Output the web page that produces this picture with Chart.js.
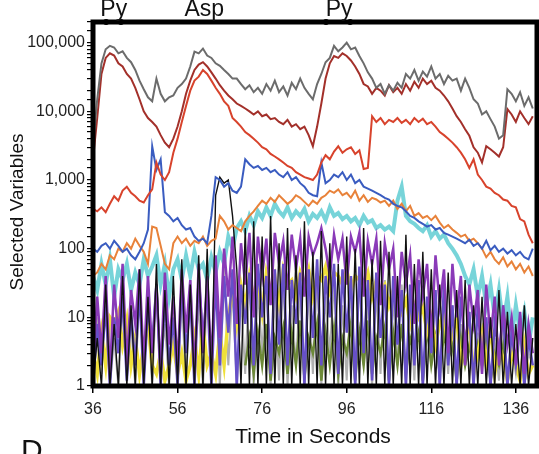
<!DOCTYPE html>
<html>
<head>
<meta charset="utf-8">
<script src="https://cdn.jsdelivr.net/npm/chart.js@4.4.1/dist/chart.umd.min.js"></script>
<style>
  body { margin: 0; background: #fff; }
  canvas { display: block; }
</style>
</head>
<body>
<canvas id="chart" width="539" height="454"></canvas>
<script>
const seconds = [
  36, 37, 38, 39, 40, 41, 42, 43, 44, 45,
  46, 47, 48, 49, 50, 51, 52, 53, 54, 55,
  56, 57, 58, 59, 60, 61, 62, 63, 64, 65,
  66, 67, 68, 69, 70, 71, 72, 73, 74, 75,
  76, 77, 78, 79, 80, 81, 82, 83, 84, 85,
  86, 87, 88, 89, 90, 91, 92, 93, 94, 95,
  96, 97, 98, 99, 100, 101, 102, 103, 104, 105,
  106, 107, 108, 109, 110, 111, 112, 113, 114, 115,
  116, 117, 118, 119, 120, 121, 122, 123, 124, 125,
  126, 127, 128, 129, 130, 131, 132, 133, 134, 135,
  136, 137, 138, 139, 140
];

const xTicks = [36, 56, 76, 96, 116, 136];
const markerTimes = [39.1, 42.6, 91.1, 96.8];
const markerLabels = [["Py", 40.9], ["Asp", 62.3], ["Py", 94.2]];

const grayVals = [
  3000, 15000, 50000, 80000, 90000, 85000, 70000, 75000, 60000, 52000,
  40000, 28000, 21000, 16000, 14000, 30000, 18000, 14000, 16000, 17000,
  22000, 25000, 30000, 45000, 74000, 70000, 82000, 65000, 60000, 50000,
  46000, 40000, 35000, 30000, 30000, 25000, 21000, 24000, 19000, 22000,
  18000, 25000, 20000, 28000, 19000, 23000, 17000, 26000, 21000, 30000,
  22000, 18000, 15000, 25000, 35000, 52000, 60000, 90000, 75000, 85000,
  100000, 80000, 85000, 64000, 50000, 37000, 30000, 22000, 25000, 18000,
  24000, 20000, 26000, 22000, 35000, 30000, 40000, 28000, 38000, 32000,
  45000, 30000, 35000, 25000, 33000, 28000, 30000, 20000, 30000, 22000,
  15000, 13000, 9000, 10000, 7700, 6000, 4000, 4500, 21000, 18000,
  14000, 19000, 12000, 16000, 11000
];

const darkRedVals = [
  2000, 8000, 35000, 60000, 70000, 65000, 50000, 45000, 35000, 30000,
  22000, 15000, 10000, 8000, 7000, 6000, 4500, 3500, 3000, 4000,
  6000, 10000, 18000, 28000, 40000, 48000, 52000, 45000, 37000, 30000,
  24000, 20000, 17000, 15000, 13000, 12000, 11000, 10000, 9000, 10000,
  8500, 9000, 7700, 8000, 7000, 6500, 7500, 6000, 6500, 5500,
  6000, 4500, 3100, 6000, 13000, 30000, 50000, 64000, 60000, 70000,
  64000, 55000, 45000, 35000, 25000, 23000, 18000, 22000, 20000, 17000,
  24000, 19000, 22000, 18000, 25000, 20000, 27000, 22000, 30000, 25000,
  28000, 22000, 20000, 17000, 14000, 11000, 8500, 7000, 5500, 4400,
  3000, 2500, 1800, 3100, 2800, 2500, 2200, 3000, 10800, 9000,
  7000, 10000, 8000, 6500, 8500
];

const redVals = [
  380, 350, 400, 340, 450, 580, 500, 700, 800, 650,
  580, 500, 470, 600, 730, 1800, 1200, 1000, 1300, 2500,
  4000, 7000, 12000, 20000, 28000, 32000, 40000, 35000, 28000, 22000,
  18000, 14000, 12000, 8000, 7000, 6000, 5000, 4500, 4000, 3500,
  3000, 2800, 2400, 2200, 2000, 1800, 1600, 1500, 1300, 1200,
  1100, 1050, 1000, 1200, 1800, 2300, 2000, 2600, 3100, 2500,
  2800, 3000, 2400, 2700, 1450, 1500, 8500, 7000, 8000, 6500,
  7500, 7000, 8000, 6800, 7500, 6500, 8000, 7000, 7800, 6500,
  7000, 6000, 5000, 4500, 4000, 3500, 3000, 2500, 2000, 1500,
  2000, 1200, 1000, 800, 750, 650, 600, 520, 500, 420,
  400, 270, 250, 160, 120
];

const blueVals = [
  100, 90, 110, 120, 100, 130, 110, 90, 100, 80,
  70, 90, 120, 190, 3100, 1400, 2000, 340, 300, 250,
  280, 220, 190, 200, 150, 130, 140, 120, 300, 1100,
  1000, 800, 900, 700, 650, 800, 2000, 1700, 1500, 1600,
  1400, 1500, 1300, 1400, 1200, 1100, 1300, 1000, 1100, 900,
  800, 650, 600, 580, 1800, 900, 1000, 1200, 1100, 1300,
  1000, 1200, 900, 1000, 800, 750, 700, 650, 600, 550,
  520, 450, 420, 400, 350, 300, 280, 250, 230, 210,
  220, 190, 200, 170, 160, 150, 140, 130, 120, 135,
  110, 120, 100, 130, 95, 110, 90, 100, 85, 95,
  80, 90, 75, 70, 100
];

const orangeVals = [
  40, 45, 60, 50, 80, 70, 100, 90, 120, 100,
  140, 110, 90, 60, 210, 200, 110, 60, 50, 120,
  150, 120, 140, 110, 130, 120, 150, 110, 130, 140,
  300, 250, 190, 220, 200, 180, 250, 300, 350, 420,
  500, 450, 550, 480, 600, 520, 450, 500, 600, 550,
  480, 420, 500, 450, 550, 600, 700, 650, 730, 600,
  650, 550, 700, 500, 600, 480, 550, 520, 470, 500,
  420, 500, 380, 450, 350, 420, 300, 330, 280, 300,
  260, 300, 240, 200, 220, 190, 170, 150, 160, 130,
  140, 120, 100, 75, 90, 70, 60, 75, 55, 65,
  50, 60, 45, 55, 40
];

const cyanVals = [
  40, 25, 60, 30, 70, 20, 50, 35, 60, 25,
  45, 30, 70, 40, 55, 80, 30, 60, 20, 50,
  70, 35, 80, 40, 90, 50, 60, 35, 75, 45,
  90, 60, 150, 100, 200, 250, 180, 300, 220, 350,
  280, 400, 300, 450, 350, 300, 400, 280, 350, 300,
  380, 250, 320, 280, 350, 260, 400, 300, 330, 270,
  300, 250, 280, 220, 300, 240, 260, 200, 220, 190,
  210, 180, 500, 800, 300, 250, 230, 200, 180, 220,
  150, 180, 140, 160, 120, 100, 80, 60, 40, 30,
  50, 20, 40, 15, 30, 10, 25, 8, 20, 5,
  15, 6, 12, 4, 10
];

const purpleVals = [
  2, 20, 3, 40, 1.5, 30, 5, 60, 2, 25,
  8, 50, 2, 40, 3, 30, 1.5, 45, 4, 20,
  2, 50, 6, 35, 1.5, 60, 3, 40, 2, 80,
  5, 100, 20, 150, 8, 120, 30, 170, 10, 150,
  40, 140, 15, 170, 60, 130, 25, 160, 50, 140,
  20, 150, 80, 120, 200, 100, 40, 160, 70, 140,
  30, 150, 90, 170, 20, 130, 60, 140, 15, 120,
  50, 100, 10, 90, 30, 80, 8, 70, 20, 60,
  5, 80, 15, 50, 3, 60, 10, 40, 2, 30,
  8, 25, 1.5, 30, 5, 20, 2, 15, 4, 10,
  2, 12, 1.5, 8, 3
];

const violetVals = [
  1, 8, 2, 15, 1, 10, 3, 20, 1.2, 12,
  2, 25, 1, 15, 4, 30, 1, 20, 2, 10,
  1, 30, 3, 20, 1, 40, 5, 25, 1, 35,
  2, 40, 6, 50, 1, 30, 8, 45, 2, 60,
  10, 40, 1.5, 50, 4, 60, 2, 35, 8, 45,
  1, 50, 5, 70, 2, 40, 10, 60, 1.5, 50,
  6, 40, 1, 55, 3, 35, 1.2, 45, 5, 30,
  1, 40, 4, 25, 1, 30, 2, 35, 1, 20,
  3, 25, 1, 30, 2, 15, 1, 20, 4, 12,
  1, 15, 2, 10, 1, 8, 3, 12, 1, 6,
  2, 8, 1, 5, 2
];

const yellowVals = [
  3, 1.5, 6, 2, 10, 8, 12, 4, 9, 2,
  5, 1.5, 4, 8, 2, 1.5, 3, 1.2, 2, 4,
  1.5, 3, 1.2, 2, 5, 1.5, 8, 2, 3, 1.5,
  6, 2, 10, 25, 8, 30, 15, 40, 20, 35,
  12, 45, 25, 40, 15, 50, 30, 35, 20, 45,
  30, 50, 20, 40, 35, 55, 25, 45, 40, 30,
  50, 25, 40, 35, 30, 45, 20, 35, 25, 30,
  15, 25, 20, 12, 18, 8, 15, 10, 14, 6,
  10, 4, 8, 12, 3, 6, 10, 2, 5, 8,
  1.5, 3, 6, 2, 8, 1.5, 4, 2.5, 1.2, 3,
  2, 1.2, 4, 1.5, 2
];

const blackVals = [
  1, 5, 1, 30, 1, 8, 1, 40, 1, 15,
  1, 50, 1, 20, 1, 60, 1, 25, 1, 40,
  1, 70, 1, 30, 1, 80, 1, 100, 1, 600,
  1100, 900, 1000, 300, 50, 1, 200, 1, 250, 1,
  150, 1, 300, 1, 120, 1, 200, 1, 80, 1,
  250, 1, 90, 1, 180, 1, 120, 1, 60, 1,
  150, 1, 100, 1, 200, 1, 70, 1, 130, 1,
  90, 1, 40, 1, 160, 1, 60, 1, 90, 1,
  50, 1, 30, 1, 45, 1, 25, 1, 35, 1,
  15, 1, 20, 1, 10, 1, 25, 1, 12, 1,
  8, 1, 15, 1, 5
];

const oliveVals = [
  null, null, null, null, null, null, null, null, null, null,
  null, null, null, null, null, null, null, null, null, null,
  null, null, null, null, null, null, null, null, null, null,
  null, null, null, null, null, null, 2, 5, 1.5, 6,
  2, 8, 1.2, 5, 3, 7, 1.5, 6, 2, 9,
  1.3, 5, 3, 8, 1.2, 6, 2, 7, 1.5, 5,
  3, 8, 1.2, 6, 2, 9, 1.5, 5, 3, 7,
  1.2, 6, 2, 8, 1.5, 5, 3, 6, 1.2, 7,
  2, 5, 1.5, 6, 2.5, 4, 1.2, 5, 2, 4,
  1.5, 4, 2, 5, 1.2, 3, 2, 4, 1.3, 3,
  null, null, null, null, null
];

const lightGrayVals = [
  1, 10, 1.5, 20, 1, 5, 1, 15, 2, 8,
  1, 25, 1.5, 12, 1, 30, 2, 8, 1, 18,
  1.2, 20, 1, 35, 3, 15, 1, 25, 1.5, 40,
  1, 50, 2, 30, 1, 20, 1.5, 45, 1, 25,
  3, 35, 1, 20, 1.2, 40, 1, 15, 2, 30,
  1, 25, 1.5, 45, 1, 20, 3, 35, 1, 15,
  1.2, 30, 1, 40, 2, 18, 1, 25, 1.5, 35,
  1, 20, 2, 30, 1, 15, 1.2, 25, 1, 12,
  2, 20, 1, 10, 1.5, 15, 1, 8, 2, 12,
  1, 6, 1.5, 10, 1, 5, 1.2, 8, 1, 4,
  1.5, 6, 1, 3, 2
];

const FONT = "'Liberation Sans', Arial, sans-serif";

function series(label, values, color, width) {
  return {
    label: label,
    data: values.map((v, i) => ({ x: seconds[i], y: v })),
    borderColor: color,
    borderWidth: width,
    pointRadius: 0,
    tension: 0,
    spanGaps: false
  };
}

const boxPlugin = {
  id: "box",
  afterDraw(chart) {
    const ctx = chart.ctx;
    const a = chart.chartArea;
    const xs = chart.scales.x;
    ctx.save();
    ctx.strokeStyle = "#000";
    ctx.lineWidth = 5;
    ctx.strokeRect(a.left, a.top, a.right - a.left, a.bottom - a.top);

    ctx.fillStyle = "#000";
    markerTimes.forEach((t) => {
      ctx.beginPath();
      ctx.arc(xs.getPixelForValue(t), a.top, 3, 0, Math.PI * 2);
      ctx.fill();
    });

    ctx.fillStyle = "#111";
    ctx.font = "23px " + FONT;
    ctx.textAlign = "center";
    ctx.textBaseline = "alphabetic";
    markerLabels.forEach(([txt, t]) => {
      ctx.fillText(txt, xs.getPixelForValue(t), 16);
    });

    ctx.font = "21px " + FONT;
    ctx.textBaseline = "middle";
    ctx.fillText("Time in Seconds", 313, 437);

    ctx.save();
    ctx.translate(18, 212);
    ctx.rotate(-Math.PI / 2);
    ctx.font = "19px " + FONT;
    ctx.fillText("Selected Variables", 0, 0);
    ctx.restore();

    ctx.font = "30px " + FONT;
    ctx.textAlign = "left";
    ctx.textBaseline = "top";
    ctx.fillText("D", 21, 437);
    ctx.restore();
  }
};

const ctx = document.getElementById("chart").getContext("2d");
new Chart(ctx, {
  type: "line",
  data: {
    datasets: [
      series("gray", grayVals, "#6c6c6c", 2),
      series("dark red", darkRedVals, "#a3302a", 2),
      series("red", redVals, "#d8432c", 2),
      series("blue", blueVals, "#3a5cc0", 2),
      series("orange", orangeVals, "#e8823a", 2),
      series("black", blackVals, "#111111", 1.4),
      series("purple", purpleVals, "#8a3ab8", 2.5),
      series("violet", violetVals, "#6650c8", 2.5),
      series("yellow", yellowVals, "#efe03a", 3.5),
      series("olive", oliveVals, "#6d8a38", 2.5),
      series("light gray", lightGrayVals, "#b0b0b0", 2),
      series("cyan", cyanVals, "rgba(95,205,210,0.85)", 4)
    ]
  },
  options: {
    responsive: false,
    devicePixelRatio: 1,
    animation: false,
    layout: { padding: { top: 22, right: 2, left: 0, bottom: 0 } },
    plugins: {
      legend: { display: false },
      tooltip: { enabled: false }
    },
    scales: {
      x: {
        type: "linear",
        min: 36,
        max: 141,
        afterBuildTicks: (scale) => {
          scale.ticks = xTicks.map((v) => ({ value: v }));
        },
        afterFit: (scale) => { scale.height = 68; },
        grid: { drawOnChartArea: false, tickLength: 7, color: "#000", lineWidth: 1.5 },
        border: { display: false },
        ticks: {
          color: "#222",
          padding: 7,
          maxRotation: 0,
          font: { family: FONT, size: 16 }
        }
      },
      y: {
        type: "logarithmic",
        min: 1,
        max: 200000,
        afterFit: (scale) => { scale.width = 93; },
        grid: { drawOnChartArea: false, tickLength: 6, color: "#000", lineWidth: 1.2 },
        border: { display: false },
        ticks: {
          autoSkip: false,
          color: "#222",
          padding: 2,
          font: { family: FONT, size: 16 },
          callback: (v) => {
            const p = Math.log10(v);
            if (Math.abs(p - Math.round(p)) < 1e-9 && v <= 100000) {
              return Number(v).toLocaleString("en-US");
            }
            return "";
          }
        }
      }
    }
  },
  plugins: [boxPlugin]
});
</script>
</body>
</html>
